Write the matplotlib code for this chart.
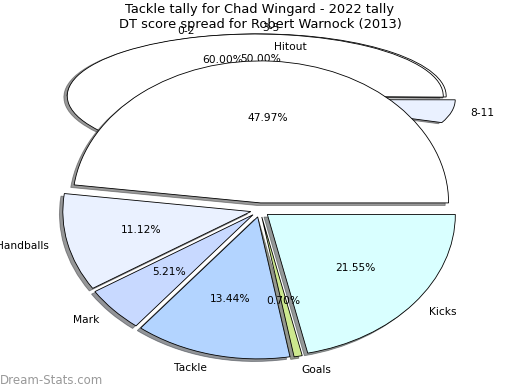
import matplotlib
matplotlib.use("Agg")
import matplotlib.pyplot as plt

# Tackle tally - Chad Wingard 2022
tackle_labels = ["Hitout", "Handballs", "Mark", "Tackle", "Goals", "Kicks"]
tackle_values = [47.97, 11.12, 5.21, 13.44, 0.70, 21.55]
tackle_colors = ["#ffffff", "#eaf1ff", "#c8d9ff", "#b3d4ff", "#cde88e", "#d9ffff"]

# DT score spread - Robert Warnock 2013 (unnormalised shares)
dt_labels = ["0-2", "3-5", "8-11"]
dt_values = [0.60, 0.50, 0.06]
dt_colors = ["#ffffff", "#ffffff", "#eaf1ff"]
dt_mid = [107, 89, -11]      # label angle of each slice
dt_order = [1, 0, 2]         # drawing order (3-5 sits behind 0-2)

W, H = 520, 390
fig = plt.figure(figsize=(5.2, 3.9), dpi=100)

shadow_style = dict(ox=-0.013, oy=-0.013, shade=0.8)
edge_style = dict(edgecolor="black", linewidth=0.6)
txt = dict(fontsize=7.7)


def place(ax, cx, cy, rx, ry, lim=1.3):
    # put the axes so that unit radius = rx/ry pixels around (cx, cy)
    w = 2 * lim * rx
    h = 2 * lim * ry
    ax.set_position([(cx - w / 2) / W, (H - cy - h / 2) / H, w / W, h / H])
    ax.set_xlim(-lim, lim)
    ax.set_ylim(-lim, lim)
    ax.set_aspect("auto")
    ax.axis("off")


# back pie (DT spread), squashed flat
ax2 = fig.add_axes([0, 0, 1, 1])
for i in dt_order:
    val = dt_values[i]
    ax2.pie([val], labels=[dt_labels[i]], colors=[dt_colors[i]],
            startangle=dt_mid[i] - val * 180, normalize=False,
            explode=[0.05], shadow=shadow_style, autopct="%.2f%%", pctdistance=0.6,
            labeldistance=1.1, wedgeprops=edge_style, textprops=txt)
place(ax2, 258, 99, 188, 62)

# front pie (tackle tally)
ax1 = fig.add_axes([0, 0, 1, 1])
ax1.pie(tackle_values, labels=tackle_labels, colors=tackle_colors, startangle=0,
        explode=[0.05] * len(tackle_values), shadow=shadow_style, autopct="%.2f%%",
        pctdistance=0.6, labeldistance=1.1, wedgeprops=edge_style, textprops=txt)
place(ax1, 260, 210, 188, 142)

fig.text(0.5, 1 - 3 / H, "Tackle tally for Chad Wingard - 2022 tally\nDT score spread for Robert Warnock (2013)",
         ha="center", va="top", fontsize=9.4, linespacing=1.2)
fig.text(0, 1 - 380 / H, "Dream-Stats.com", ha="left", va="center", fontsize=8.5,
         color="#999999")

fig.savefig("out.png", dpi=100)
